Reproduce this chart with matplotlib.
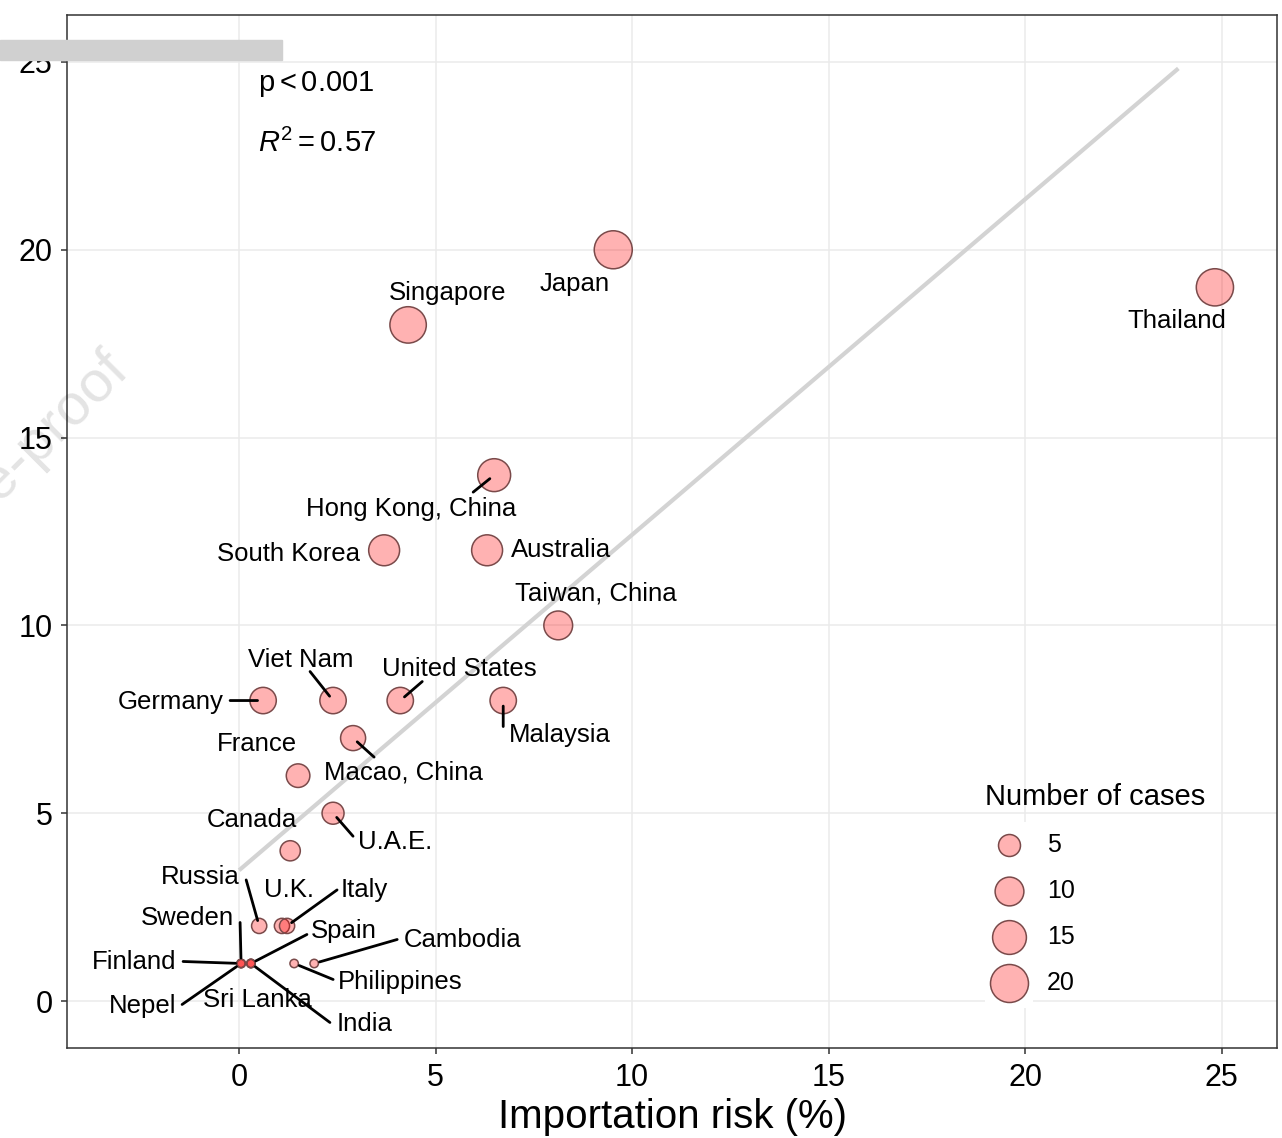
import numpy as np
import matplotlib
matplotlib.use("Agg")
import matplotlib.pyplot as plt
from matplotlib.patches import Rectangle

plt.rcParams['font.family'] = ['Liberation Sans', 'DejaVu Sans']
plt.rcParams['mathtext.fontset'] = 'custom'
plt.rcParams['mathtext.rm'] = 'Liberation Sans'
plt.rcParams['mathtext.it'] = 'Liberation Sans:italic'

# data
countries = ["Thailand", "Japan", "Singapore", "Hong Kong, China", "South Korea",
             "Australia", "Taiwan, China", "Germany", "Viet Nam", "United States",
             "Malaysia", "Macao, China", "France", "U.A.E.", "Canada", "Russia",
             "U.K.", "Italy", "Sweden", "Spain", "Cambodia", "Finland",
             "Philippines", "Nepel", "Sri Lanka", "India"]
risk = [24.83, 9.52, 4.30, 6.49, 3.69, 6.31, 8.12, 0.61, 2.39, 4.10,
        6.72, 2.90, 1.50, 2.39, 1.30, 0.51, 1.09, 1.22, 0.05, 0.30,
        1.91, 0.05, 1.40, 0.05, 0.30, 0.30]
cases = [19, 20, 18, 14, 12, 12, 10, 8, 8, 8,
         8, 7, 6, 5, 4, 2, 2, 2, 1, 1,
         1, 1, 1, 1, 1, 1]
legend_cases = [5, 10, 15, 20]
fit_x_end = 23.9

# label offsets from the point, in pixels (dx, dy up)
label_offset = {
    "Thailand": (-38, -34), "Japan": (-39, -34), "Singapore": (39, 32),
    "Hong Kong, China": (-83, -34), "South Korea": (-96, -4),
    "Australia": (74, 0), "Taiwan, China": (38, 32), "Germany": (-92, -1),
    "Viet Nam": (-32, 41), "United States": (59, 32), "Malaysia": (57, -34),
    "Macao, China": (50, -34), "France": (-41, 32), "U.A.E.": (62, -29),
    "Canada": (-38, 31), "Russia": (-59, 49), "U.K.": (7, 36),
    "Italy": (77, 36), "Sweden": (-54, 45), "Spain": (93, 32),
    "Cambodia": (148, 23), "Finland": (-107, 1), "Philippines": (106, -19),
    "Nepel": (-98, -43), "Sri Lanka": (6, -37), "India": (114, -61),
}
# where the leader segment starts, offset from the point in pixels
leader_start = {
    "Hong Kong, China": (-21, -17), "Germany": (-33, 0), "Viet Nam": (-23, 29),
    "United States": (22, 19), "Malaysia": (0, -26), "Macao, China": (21, -19),
    "U.A.E.": (20, -23), "Russia": (-13, 46), "Italy": (50, 36),
    "Sweden": (-1, 41), "Spain": (56, 29), "Cambodia": (83, 24),
    "Finland": (-58, 2), "Philippines": (39, -16), "Nepel": (-59, -41),
    "India": (79, -59),
}


def diam_px(v):
    return 8.4 + 29.6 * np.sqrt((np.asarray(v, dtype=float) - 1) / 19)


def marker_area(v):
    return (diam_px(v) * 0.72) ** 2


W, H = 1282, 1138
fig = plt.figure(figsize=(W / 100, H / 100), dpi=100)
ax = fig.add_axes([67 / W, 1 - 1048 / H, 1210 / W, 1033 / H])

ax.set_xlim(-4.38, 26.41)
ax.set_ylim(-1.25, 26.25)
ax.set_xticks([0, 5, 10, 15, 20, 25])
ax.set_yticks([0, 5, 10, 15, 20, 25])
ax.grid(color='#EBEBEB', linewidth=1.1)
ax.set_axisbelow(True)
for s in ax.spines.values():
    s.set_color('#333333')
    s.set_linewidth(1.1)
ax.tick_params(labelsize=22, length=4, width=1.1, color='#333333', pad=6.5)
ax.set_xlabel("Importation risk (%)", fontsize=29, labelpad=4)

# regression line
slope, intercept = np.polyfit(risk, cases, 1)
xs = np.array([0, fit_x_end])
ax.plot(xs, intercept + slope * xs, color='#D3D3D3', lw=3,
        solid_capstyle='butt', zorder=1.5)

pt_face = (1, 0, 0, 0.3)
pt_edge = '#7A4A4A'
ax.scatter(risk, cases, s=marker_area(cases), facecolor=pt_face,
           edgecolor=pt_edge, linewidth=1.1, zorder=3)

for name, x, y in zip(countries, risk, cases):
    ax.annotate(name, (x, y), xytext=label_offset[name],
                textcoords='offset pixels', ha='center', va='center',
                fontsize=18.5, zorder=4)
    if name in leader_start:
        ax.annotate("", (x, y), xytext=leader_start[name],
                    textcoords='offset pixels',
                    arrowprops=dict(arrowstyle='-', color='black', lw=2,
                                    shrinkA=0, shrinkB=4), zorder=4)

ax.text(0.48, 24.42, r"$\mathrm{p} < 0.001$", fontsize=21, va='center')
ax.text(0.48, 22.82, r"$R^{2} = 0.57$", fontsize=21, va='center')

# legend
ax.add_patch(Rectangle(((985 - 67) / 1210, (1048 - 1008) / 1033),
                       48 / 1210, 186 / 1033, transform=ax.transAxes,
                       facecolor='white', edgecolor='none', zorder=1))
handles = [ax.scatter([], [], s=marker_area(v), facecolor=pt_face,
                      edgecolor=pt_edge, linewidth=1.1)
           for v in legend_cases]
leg = ax.legend(handles, [str(v) for v in legend_cases], title="Number of cases",
                title_fontsize=21, fontsize=18, frameon=False, alignment='left',
                loc='upper left',
                bbox_to_anchor=((985 - 67) / 1210, (1048 - 783) / 1033),
                borderpad=0, borderaxespad=0, scatterpoints=1,
                handlelength=1.92, handletextpad=0.56, labelspacing=0.88)

# journal watermark and banner
fig.text(131 / W, 1 - 373 / H, "Journal Pre-proof", rotation=45,
         rotation_mode='anchor', ha='right', va='baseline', fontsize=42,
         color=(0, 0, 0, 0.11), zorder=20)
fig.add_artist(Rectangle((0, 1 - 60 / H), 282 / W, 20 / H,
                         transform=fig.transFigure, color='#D0D0D0', zorder=21))

fig.savefig("out.png", dpi=100)
